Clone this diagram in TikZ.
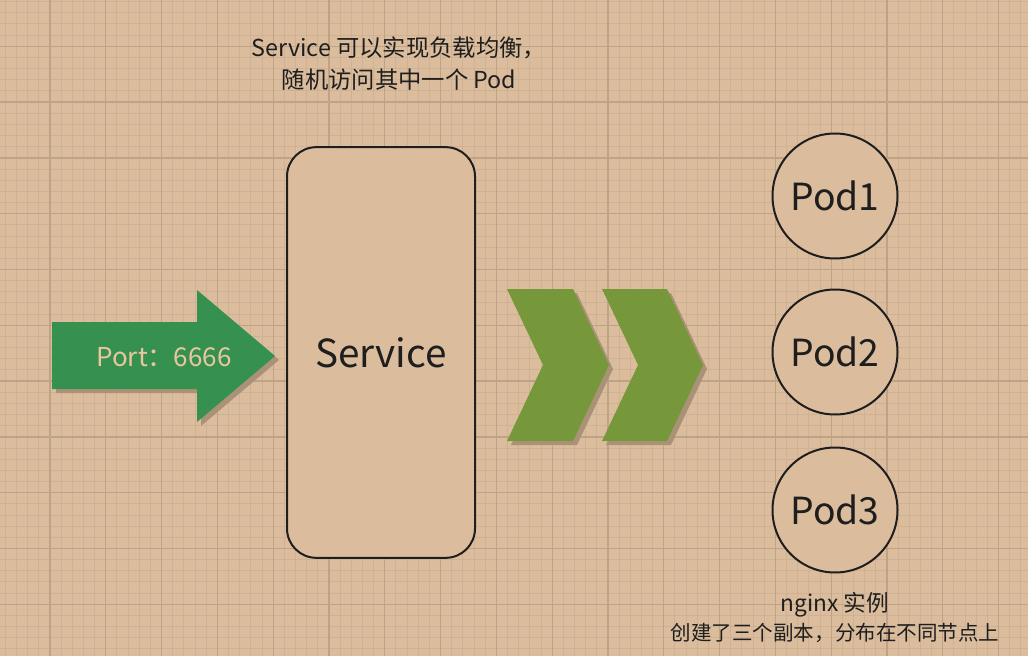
\documentclass[tikz,border=0pt]{standalone}
\usepackage{fontspec}
\setmainfont{Noto Sans CJK SC}
\definecolor{bg}{RGB}{219,189,157}
\definecolor{minorgrid}{RGB}{207,178,148}
\definecolor{majorgrid}{RGB}{190,163,135}
\definecolor{portgreen}{RGB}{54,145,80}
\definecolor{porttext}{RGB}{232,199,158}
\definecolor{chevgreen}{RGB}{118,151,58}
\definecolor{shadowc}{RGB}{170,146,121}
\definecolor{ink}{RGB}{30,30,30}
\begin{document}
\begin{tikzpicture}[x=0.75pt,y=-0.75pt,
  txt/.style={text=ink, inner sep=0pt},
  podnode/.style={circle, draw=ink, line width=1.5pt, fill=bg, minimum size=93.75pt, inner sep=0pt, text=ink, font=\fontsize{28}{32}\selectfont},
  shadowfill/.style={fill=shadowc}
]
\fill[bg] (0,0) rectangle (1028,656);
\useasboundingbox (0,0) rectangle (1028,656);
% grid
\foreach \k in {-4,...,87} {
  \draw[minorgrid, line width=0.75pt] ({50+11.16*\k},0) -- ({50+11.16*\k},656);
}
\foreach \k in {-4,...,55} {
  \draw[minorgrid, line width=0.75pt] (0,{46.3+11.16*\k}) -- (1028,{46.3+11.16*\k});
}
\foreach \k in {0,...,17} {
  \draw[majorgrid, line width=1pt] ({50+55.8*\k},0) -- ({50+55.8*\k},656);
}
\foreach \k in {0,...,11} {
  \draw[majorgrid, line width=1pt] (0,{46.3+55.8*\k}) -- (1028,{46.3+55.8*\k});
}
% port arrow
\fill[shadowfill] (56,326) -- (201,326) -- (201,294) -- (279,360) -- (201,426) -- (201,393) -- (56,393) -- cycle;
\fill[portgreen] (52,322) -- (197,322) -- (197,290) -- (275,356) -- (197,422) -- (197,389) -- (52,389) -- cycle;
\node[txt, text=porttext, font=\fontsize{19.5}{22}\selectfont] (port) at (164,357) {Port：6666};
% service
\node[draw=ink, line width=1.5pt, fill=bg, rounded corners=22pt, minimum width=141pt, minimum height=308pt, inner sep=0pt, text=ink, font=\fontsize{29}{36}\selectfont] (service) at (381,352.5) {Service};
% chevrons
\fill[shadowfill] (511,293) -- (577,293) -- (613,369) -- (577,445) -- (511,445) -- (547,369) -- cycle;
\fill[chevgreen] (507,289) -- (573,289) -- (609,365) -- (573,441) -- (507,441) -- (543,365) -- cycle;
\fill[shadowfill] (606,293) -- (671,293) -- (707,369) -- (671,445) -- (606,445) -- (642,369) -- cycle;
\fill[chevgreen] (602,289) -- (667,289) -- (703,365) -- (667,441) -- (602,441) -- (638,365) -- cycle;
% pods
\node[podnode] (pod1) at (835,196) {Pod1};
\node[podnode] (pod2) at (835,352) {Pod2};
\node[podnode] (pod3) at (835,510) {Pod3};
% texts
\node[txt, align=center, font=\fontsize{17.5}{24}\selectfont] (note) at (399,64) {Service 可以实现负载均衡，\\随机访问其中一个 Pod};
\node[txt, font=\fontsize{17}{20}\selectfont] (nginx) at (835,605) {nginx 实例};
\node[txt, font=\fontsize{15.4}{18}\selectfont] (replica) at (835,633) {创建了三个副本，分布在不同节点上};
\end{tikzpicture}
\end{document}
